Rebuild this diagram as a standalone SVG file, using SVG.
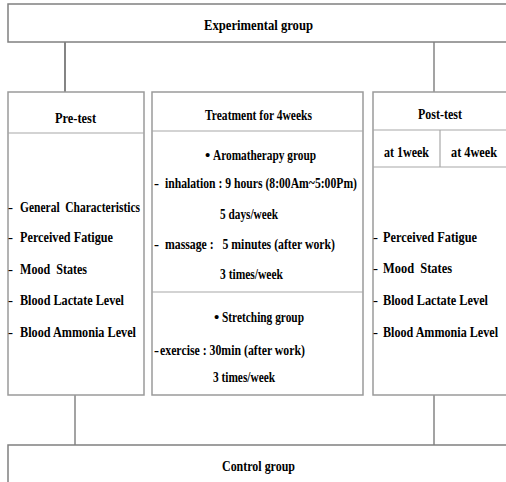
<svg xmlns="http://www.w3.org/2000/svg" width="506" height="482" viewBox="0 0 506 482">
<style>
text{font-family:"Liberation Serif","Times New Roman",serif;font-weight:bold;font-size:15px;fill:#000;white-space:pre}
.d{font-weight:normal}
.box{fill:#fff;stroke:#9a9a9a;stroke-width:1.5}
.div{stroke:#a8a8a8;stroke-width:1.2;fill:none}
.con{stroke:#666;stroke-width:1.2;fill:none}
</style>
<rect width="506" height="482" fill="#fff"/>
<g id="connectors">
<line class="con" x1="65" y1="42" x2="65" y2="92" style="stroke:#333"/>
<line class="con" x1="434" y1="42" x2="434" y2="92"/>
<line class="con" x1="75" y1="395" x2="75" y2="445"/>
<line class="con" x1="434" y1="395" x2="434" y2="445"/>
</g>
<g id="experimental">
<rect class="box" x="8" y="4" width="520" height="38" style="stroke:#808080"/>
<text x="204" y="30" textLength="109" lengthAdjust="spacingAndGlyphs">Experimental group</text>
</g>
<g id="pretest">
<rect class="box" x="8" y="92" width="136" height="303"/>
<line class="div" x1="8" y1="133" x2="144" y2="133"/>
<text x="55" y="123" textLength="41" lengthAdjust="spacingAndGlyphs">Pre-test</text>
<text y="212"><tspan class="d" x="8">-</tspan><tspan x="20" textLength="120" lengthAdjust="spacingAndGlyphs">General  Characteristics</tspan></text>
<text y="242"><tspan class="d" x="8">-</tspan><tspan x="20" textLength="93" lengthAdjust="spacingAndGlyphs">Perceived Fatigue</tspan></text>
<text y="274"><tspan class="d" x="8">-</tspan><tspan x="20" textLength="67" lengthAdjust="spacingAndGlyphs">Mood  States</tspan></text>
<text y="305"><tspan class="d" x="8">-</tspan><tspan x="20" textLength="104" lengthAdjust="spacingAndGlyphs">Blood Lactate Level</tspan></text>
<text y="337"><tspan class="d" x="8">-</tspan><tspan x="20" textLength="116" lengthAdjust="spacingAndGlyphs">Blood Ammonia Level</tspan></text>
</g>
<g id="treatment">
<rect class="box" x="152" y="92" width="211" height="303"/>
<line class="div" x1="152" y1="131" x2="363" y2="131"/>
<line class="div" x1="152" y1="292" x2="363" y2="292"/>
<text x="205" y="120" textLength="107" lengthAdjust="spacingAndGlyphs">Treatment for 4weeks</text>
<text y="160"><tspan x="205">•</tspan><tspan x="213" textLength="103" lengthAdjust="spacingAndGlyphs">Aromatherapy group</tspan></text>
<text y="188"><tspan x="154">-</tspan><tspan x="165" textLength="192" lengthAdjust="spacingAndGlyphs">inhalation : 9 hours (8:00Am~5:00Pm)</tspan></text>
<text x="220" y="219" textLength="58" lengthAdjust="spacingAndGlyphs">5 days/week</text>
<text y="249"><tspan x="154">-</tspan><tspan x="165" textLength="170" lengthAdjust="spacingAndGlyphs">massage :   5 minutes (after work)</tspan></text>
<text x="220" y="279" textLength="63" lengthAdjust="spacingAndGlyphs">3 times/week</text>
<text y="322"><tspan x="214">•</tspan><tspan x="222" textLength="82" lengthAdjust="spacingAndGlyphs">Stretching group</tspan></text>
<text y="355"><tspan x="154">-</tspan><tspan x="160" textLength="145" lengthAdjust="spacingAndGlyphs">exercise : 30min (after work)</tspan></text>
<text x="213" y="382" textLength="62" lengthAdjust="spacingAndGlyphs">3 times/week</text>
</g>
<g id="posttest">
<rect class="box" x="373" y="92" width="150" height="303"/>
<line class="div" x1="373" y1="130" x2="523" y2="130"/>
<line class="div" x1="373" y1="167" x2="523" y2="167"/>
<line class="div" x1="440" y1="130" x2="440" y2="167"/>
<text x="418" y="119" textLength="44" lengthAdjust="spacingAndGlyphs">Post-test</text>
<text x="384" y="157" textLength="45" lengthAdjust="spacingAndGlyphs">at 1week</text>
<text x="451" y="157" textLength="46" lengthAdjust="spacingAndGlyphs">at 4week</text>
<text y="242"><tspan class="d" x="373">-</tspan><tspan x="383" textLength="94" lengthAdjust="spacingAndGlyphs">Perceived Fatigue</tspan></text>
<text y="273"><tspan class="d" x="373">-</tspan><tspan x="383" textLength="69" lengthAdjust="spacingAndGlyphs">Mood  States</tspan></text>
<text y="305"><tspan class="d" x="373">-</tspan><tspan x="383" textLength="105" lengthAdjust="spacingAndGlyphs">Blood Lactate Level</tspan></text>
<text y="337"><tspan class="d" x="373">-</tspan><tspan x="383" textLength="115" lengthAdjust="spacingAndGlyphs">Blood Ammonia Level</tspan></text>
</g>
<g id="control">
<rect class="box" x="8" y="445" width="520" height="50" style="stroke:#808080"/>
<text x="222" y="471" textLength="73" lengthAdjust="spacingAndGlyphs">Control group</text>
</g>
</svg>
